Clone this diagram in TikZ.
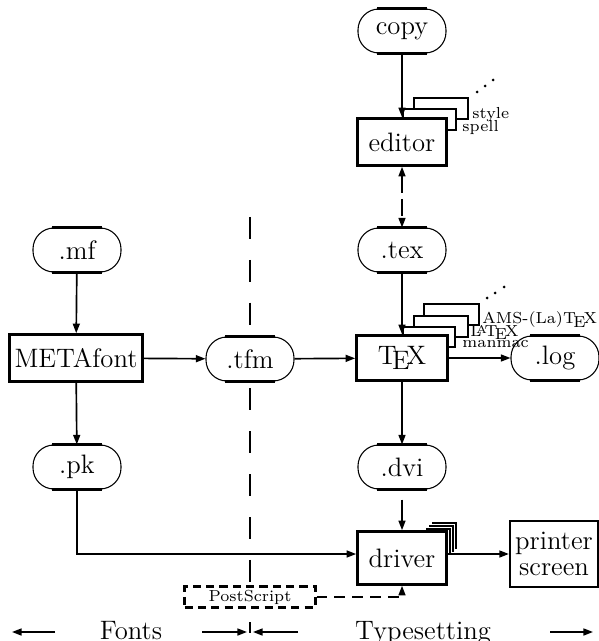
\documentclass[tikz,border=0pt]{standalone}
\usetikzlibrary{arrows.meta,calc}
\newdimen\U \U=0.42pt
\newcommand\mainsz{\fontsize{11.2}{13}\selectfont}
\newcommand\smallsz{\fontsize{6.7}{8}\selectfont}
\begin{document}
\begin{tikzpicture}[x=0.42pt,y=-0.42pt,
  stad/.style={draw, line width=0.45pt, rounded corners=21\U, minimum width=88\U,
    minimum height=44\U, inner sep=0pt, fill=white, font=\mainsz},
  proc/.style={draw, line width=1.1pt, fill=white, minimum height=47\U,
    minimum width=89\U, inner sep=1pt, font=\mainsz},
  conn/.style={line width=0.7pt, -{Triangle[length=4pt,width=2.9pt]}},
  lbl/.style={font=\smallsz, inner sep=0pt, anchor=west},
  frm/.style={draw, line width=0.85pt, fill=white},
  flat/.style={line width=1.2pt},
  bottomtxt/.style={font=\mainsz, inner sep=0pt, anchor=base}]
\useasboundingbox (0,0) rectangle (598,641);

% divider between Fonts and Typesetting
\draw[line width=1.2pt, dash pattern=on 9.2pt off 8.8pt] (250,217) -- (250,587);

% stacked frames behind editor
\draw[frm] (414,98) rectangle (468,119);
\draw[frm] (403,109) rectangle (456,130);
% stacked frames behind TeX
\draw[frm] (424,304) rectangle (479,325);
\draw[frm] (414,316) rectangle (468,337);
\draw[frm] (403,327) rectangle (455,347);

% nodes
\node[stad] (copy) at (402,31) {copy};
\node[proc] (editor) at (402,142) {editor};
\node[stad] (tex) at (402,250) {.tex};
\node[stad] (mf) at (77,250) {.mf};
\node[proc, minimum width=133\U, inner xsep=1pt] (mfont) at (76,358) {METAfont};
\node[stad] (tfm) at (250,359) {.tfm};
\node[proc, minimum width=91\U, minimum height=45\U] (TeX) at (402,358) {\TeX};
\node[stad] (log) at (555,358) {.log};
\node[stad] (pk) at (77,467) {.pk};
\node[stad] (dvi) at (402,467) {.dvi};
\node[proc, minimum height=53\U] (driver) at (402,558) {driver};
\node[draw, line width=0.95pt, fill=white, minimum width=88\U, minimum height=66\U,
  inner sep=1pt, align=center, font=\mainsz] (printer) at (554,554) {printer\\[-2pt]screen};
\node[draw, line width=0.85pt, dash pattern=on 3.4pt off 2.2pt, fill=white,
  minimum width=131\U, minimum height=21\U, inner sep=0pt, font=\smallsz] (ps) at (250,597) {PostScript};

% flat top/bottom emphasis of the oval nodes
\foreach \n in {copy,tex,mf,tfm,log,pk,dvi}{
  \draw[flat] ([xshift=20\U]\n.north west) -- ([xshift=-20\U]\n.north east);
  \draw[flat] ([xshift=20\U]\n.south west) -- ([xshift=-20\U]\n.south east);
}

% labels of the stacks
\node[lbl] (style) at (472,115) {style};
\node[lbl] (spell) at (462,127.5) {spell};
\node[lbl] (ams) at (482,320) {AMS-(La)\TeX};
\node[lbl] (latex) at (470,332.5) {\LaTeX};
\node[lbl] (manmac) at (462,344.5) {manmac};
\fill (477,92) circle (1.5) (485,86) circle (1.5) (493,80) circle (1.5);
\fill (487,298) circle (1.5) (495,293) circle (1.5) (504,287) circle (1.5);

% driver multiple-output marks
\draw[line width=0.85pt] (426,529) -- (450,529) -- (450,555);
\draw[line width=0.85pt] (429,526) -- (453,526) -- (453,552);
\draw[line width=0.85pt] (432,523) -- (456,523) -- (456,549);

% connectors
\draw[conn] (copy) -- (editor);
\draw[line width=0.7pt, dash pattern=on 7.1pt off 2.5pt,
  {Triangle[length=4pt,width=2.9pt]}-{Triangle[length=4pt,width=2.9pt]}] (editor) -- (tex);
\draw[conn] (tex) -- (TeX);
\draw[conn] (mf) -- (mfont);
\draw[conn] (mfont) -- (tfm);
\draw[conn] (tfm) -- (TeX);
\draw[conn] (TeX) -- (log);
\draw[conn] (TeX) -- (dvi);
\draw[conn] (mfont) -- (pk);
\draw[conn] (pk.south) |- (driver.west |- printer.west);
\draw[conn, shorten <=10\U] (dvi) -- (driver);
\draw[conn] (driver.east |- printer.west) -- (printer.west);
\draw[conn, dash pattern=on 4.6pt off 2.9pt] (ps.east) -| (driver.south);

% bottom legend
\coordinate (fl1) at (55,632);
\coordinate (fl2) at (12,632);
\coordinate (fr1) at (202,632);
\coordinate (fr2) at (247,632);
\coordinate (tl1) at (298,632);
\coordinate (tl2) at (253,632);
\coordinate (tr1) at (550,632);
\coordinate (tr2) at (593,632);
\coordinate (tk1) at (250,622);
\coordinate (tk2) at (250,633);
\draw[conn] (fl1) -- (fl2);
\draw[conn] (fr1) -- (fr2);
\draw[conn] (tl1) -- (tl2);
\draw[conn] (tr1) -- (tr2);
\draw[line width=1.2pt] (tk1) -- (tk2);
\node[bottomtxt] (fonts) at (131,639) {Fonts};
\node[bottomtxt] (typeset) at (423,639) {Typesetting};
\end{tikzpicture}
\end{document}
